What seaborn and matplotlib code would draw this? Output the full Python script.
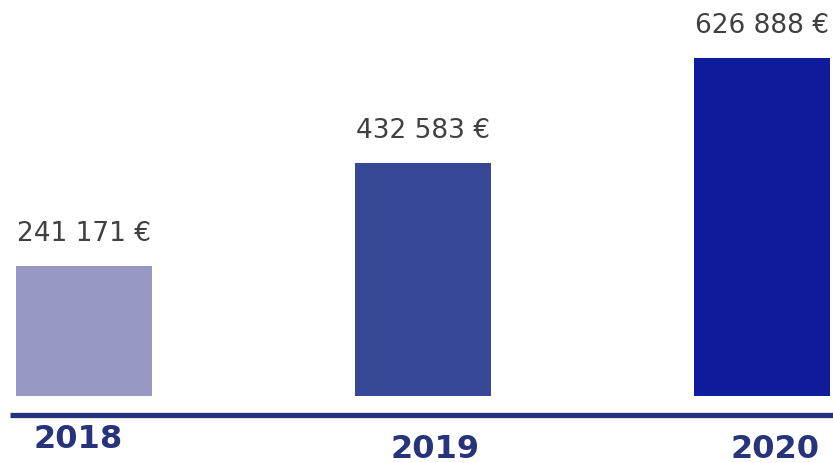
import matplotlib
matplotlib.use("Agg")
import matplotlib.pyplot as plt
import seaborn as sns
import pandas as pd

years = ["2018", "2019", "2020"]
amounts = [241171, 432583, 626888]
bar_colors = ["#9799c4", "#364896", "#0e1c9c"]

sns.set_theme(style="white")
plt.rcParams["font.family"] = ["DejaVu Sans"]

df = pd.DataFrame({"year": years, "amount": amounts})

fig = plt.figure(figsize=(8.33, 4.63), dpi=100)
ax = fig.add_axes([0, 0, 1, 1])

sns.barplot(data=df, x="year", y="amount", hue="year", palette=bar_colors,
            width=0.401, legend=False, saturation=1, linewidth=0, ax=ax)

px = 0.000539  # pixels per euro
ax.set_xlim(-84 / 339, (833 - 84) / 339)
ax.set_ylim(-67 / px, 396 / px)
ax.axis("off")

# value labels above bars
for i, v in enumerate(amounts):
    label = f"{v:,}".replace(",", " ") + " €"
    ax.text(i, v + 32 / px, label, ha="center", va="center",
            fontsize=19, color="#404040")

# baseline
ax.axhline(-(414.5 - 396) / px, xmin=10 / 833, xmax=1, color="#27337a",
           lw=3.8, solid_capstyle="butt")

# year labels (slightly offset, as in the original)
x_off = [-0.018, 0.035, 0.038]
y_pos = [440, 449, 449]
for i, yr in enumerate(years):
    ax.text(i + x_off[i], -(y_pos[i] - 396) / px, yr, ha="center", va="center",
            fontsize=23, fontweight="heavy", color="#27337a")

fig.savefig("out.png", dpi=100)
